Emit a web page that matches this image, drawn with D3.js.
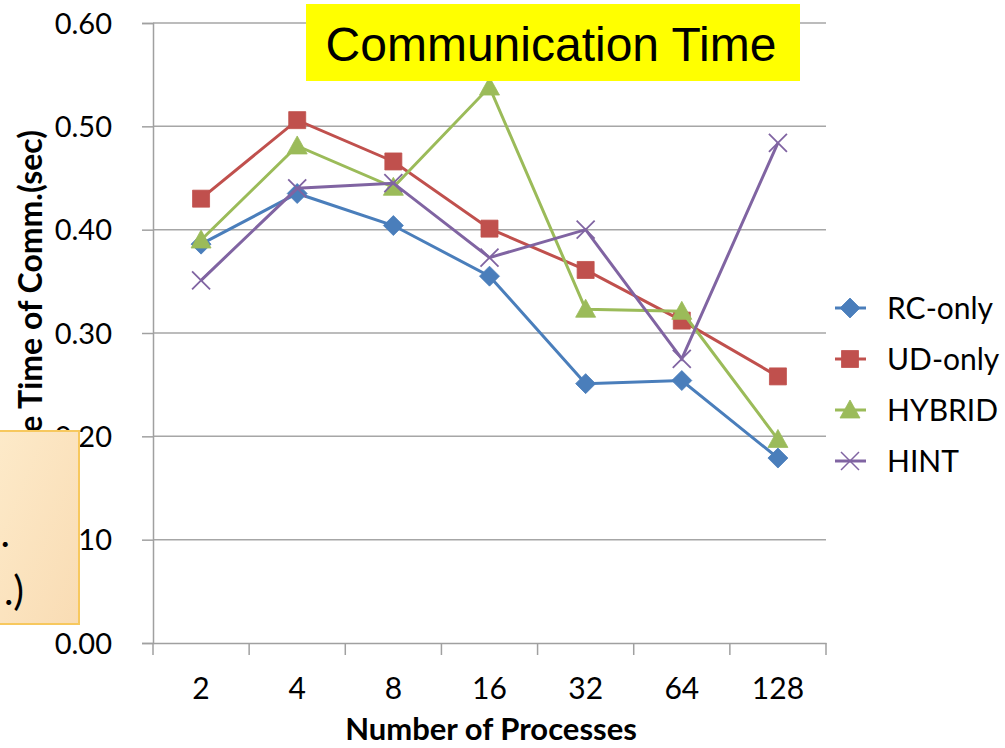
<!DOCTYPE html>
<html><head><meta charset="utf-8">
<script src="https://cdn.jsdelivr.net/npm/d3@7"></script>
<style>body{margin:0;background:#fff}svg{display:block}</style>
</head><body>
<svg id="c" width="1005" height="748"></svg>
<script>
const categories = ["2","4","8","16","32","64","128"];
const rcOnly = [0.386,0.435,0.404,0.355,0.251,0.254,0.179];
const udOnly = [0.430,0.506,0.466,0.401,0.361,0.312,0.258];
const hybrid = [0.390,0.481,0.441,0.538,0.323,0.321,0.197];
const hint   = [0.351,0.440,0.445,0.373,0.400,0.275,0.484];
const yTicks = [0,0.1,0.2,0.3,0.4,0.5,0.6];
const seriesNames = ["RC-only","UD-only","HYBRID","HINT"];
const seriesColors = ["#4a7ebb","#c0504d","#9bbb59","#8064a2"];
const seriesShapes = ["diamond","square","triangle","x"];
const seriesData = [rcOnly, udOnly, hybrid, hint];

const svg = d3.select("#c");
const L=153,R=826,T=23,B=643;
const x = d3.scaleBand().domain(categories).range([L,R]);
const y = d3.scaleLinear().domain([0,0.6]).range([B,T]);
const font = "Lato, 'Open Sans', sans-serif";

// gridlines
svg.append("g").selectAll("line").data(yTicks.filter(d=>d>0)).join("line")
  .attr("x1",L).attr("x2",R).attr("y1",d=>y(d)).attr("y2",d=>y(d))
  .attr("stroke","#a6a6a6").attr("stroke-width",1.5);

// y axis
const ya = svg.append("g").attr("transform",`translate(${L},0)`)
  .call(d3.axisLeft(y).tickValues(yTicks).tickFormat(d3.format(".2f")).tickSize(11).tickPadding(30));
ya.select(".domain").attr("stroke","#a0a0a0").attr("stroke-width",1.5);
ya.selectAll(".tick line").attr("stroke","#a0a0a0").attr("stroke-width",1.5);
ya.selectAll("text").attr("font-family",font).attr("font-size",29).attr("fill","#000").attr("dy","0.35em");

// x axis
const xa = svg.append("g").attr("transform",`translate(0,${B})`)
  .call(d3.axisBottom(x).tickSize(0).tickPadding(35));
xa.select(".domain").attr("stroke","#a0a0a0").attr("stroke-width",1.5);
xa.selectAll("text").attr("font-family",font).attr("font-size",30).attr("fill","#000");
const bounds = categories.map(c=>x(c)).concat([x(categories[categories.length-1])+x.bandwidth()]);
svg.append("g").selectAll("line").data(bounds).join("line")
  .attr("x1",d=>d).attr("x2",d=>d).attr("y1",B).attr("y2",B+12)
  .attr("stroke","#a0a0a0").attr("stroke-width",1.5);

// axis titles
svg.append("text").attr("x",491).attr("y",740).attr("text-anchor","middle")
  .attr("font-family",font).attr("font-weight","bold").attr("font-size",31).text("Number of Processes");
svg.append("text").attr("transform","translate(42,130) rotate(-90)").attr("text-anchor","end")
  .attr("font-family",font).attr("font-weight","bold").attr("font-size",32).text("Average Time of Comm.(sec)");

// marker paths
function markerPath(shape){
  if(shape==="diamond") return "M0,-10L10,0L0,10L-10,0Z";
  if(shape==="square") return "M-8.5,-8.5H8.5V8.5H-8.5Z";
  if(shape==="triangle") return "M0,-10L10,8L-10,8Z";
  return "M-9,-9L9,9M-9,9L9,-9";
}
const line = d3.line().x((d,i)=>x(categories[i])+x.bandwidth()/2).y(d=>y(d));

seriesData.forEach((data,si)=>{
  const g = svg.append("g");
  g.append("path").datum(data).attr("d",line).attr("fill","none")
    .attr("stroke",seriesColors[si]).attr("stroke-width",3);
  g.selectAll("path.m").data(data).join("path").attr("class","m")
    .attr("transform",(d,i)=>`translate(${x(categories[i])+x.bandwidth()/2},${y(d)})`)
    .attr("d",markerPath(seriesShapes[si]))
    .attr("fill",seriesShapes[si]==="x"?"none":seriesColors[si])
    .attr("stroke",seriesColors[si]).attr("stroke-width",seriesShapes[si]==="x"?1.8:0.8);
});

// legend
const lg = svg.append("g");
seriesNames.forEach((n,i)=>{
  const yy = 308 + i*51;
  lg.append("line").attr("x1",835).attr("x2",866).attr("y1",yy).attr("y2",yy)
    .attr("stroke",seriesColors[i]).attr("stroke-width",3);
  lg.append("path").attr("transform",`translate(850,${yy})`).attr("d",markerPath(seriesShapes[i]))
    .attr("fill",seriesShapes[i]==="x"?"none":seriesColors[i])
    .attr("stroke",seriesColors[i]).attr("stroke-width",seriesShapes[i]==="x"?1.5:0.8);
  lg.append("text").attr("x",887).attr("y",yy).attr("dy","0.35em")
    .attr("font-family",font).attr("font-size",30).text(n);
});

// title box
svg.append("rect").attr("x",306).attr("y",4).attr("width",494).attr("height",77).attr("fill","#ffff00");
svg.append("text").attr("x",551).attr("y",61).attr("text-anchor","middle")
  .attr("font-family","'Liberation Sans', Arial, sans-serif").attr("font-size",48).text("Communication Time");

// overlay box
const defs = svg.append("defs");
const gr = defs.append("linearGradient").attr("id","og").attr("x1","0").attr("y1","0").attr("x2","1").attr("y2","1");
gr.append("stop").attr("offset","0").attr("stop-color","#fdeac9");
gr.append("stop").attr("offset","1").attr("stop-color","#f9dcb4");
svg.append("rect").attr("x",-2).attr("y",431).attr("width",81).attr("height",193)
  .attr("fill","url(#og)").attr("stroke","#f7c85e").attr("stroke-width",2);
svg.append("text").attr("x",10).attr("y",547).attr("text-anchor","end")
  .attr("font-family",font).attr("font-size",40).text(".");
svg.append("text").attr("x",24).attr("y",605).attr("text-anchor","end")
  .attr("font-family",font).attr("font-size",40).text(".)");
</script>
</body></html>
